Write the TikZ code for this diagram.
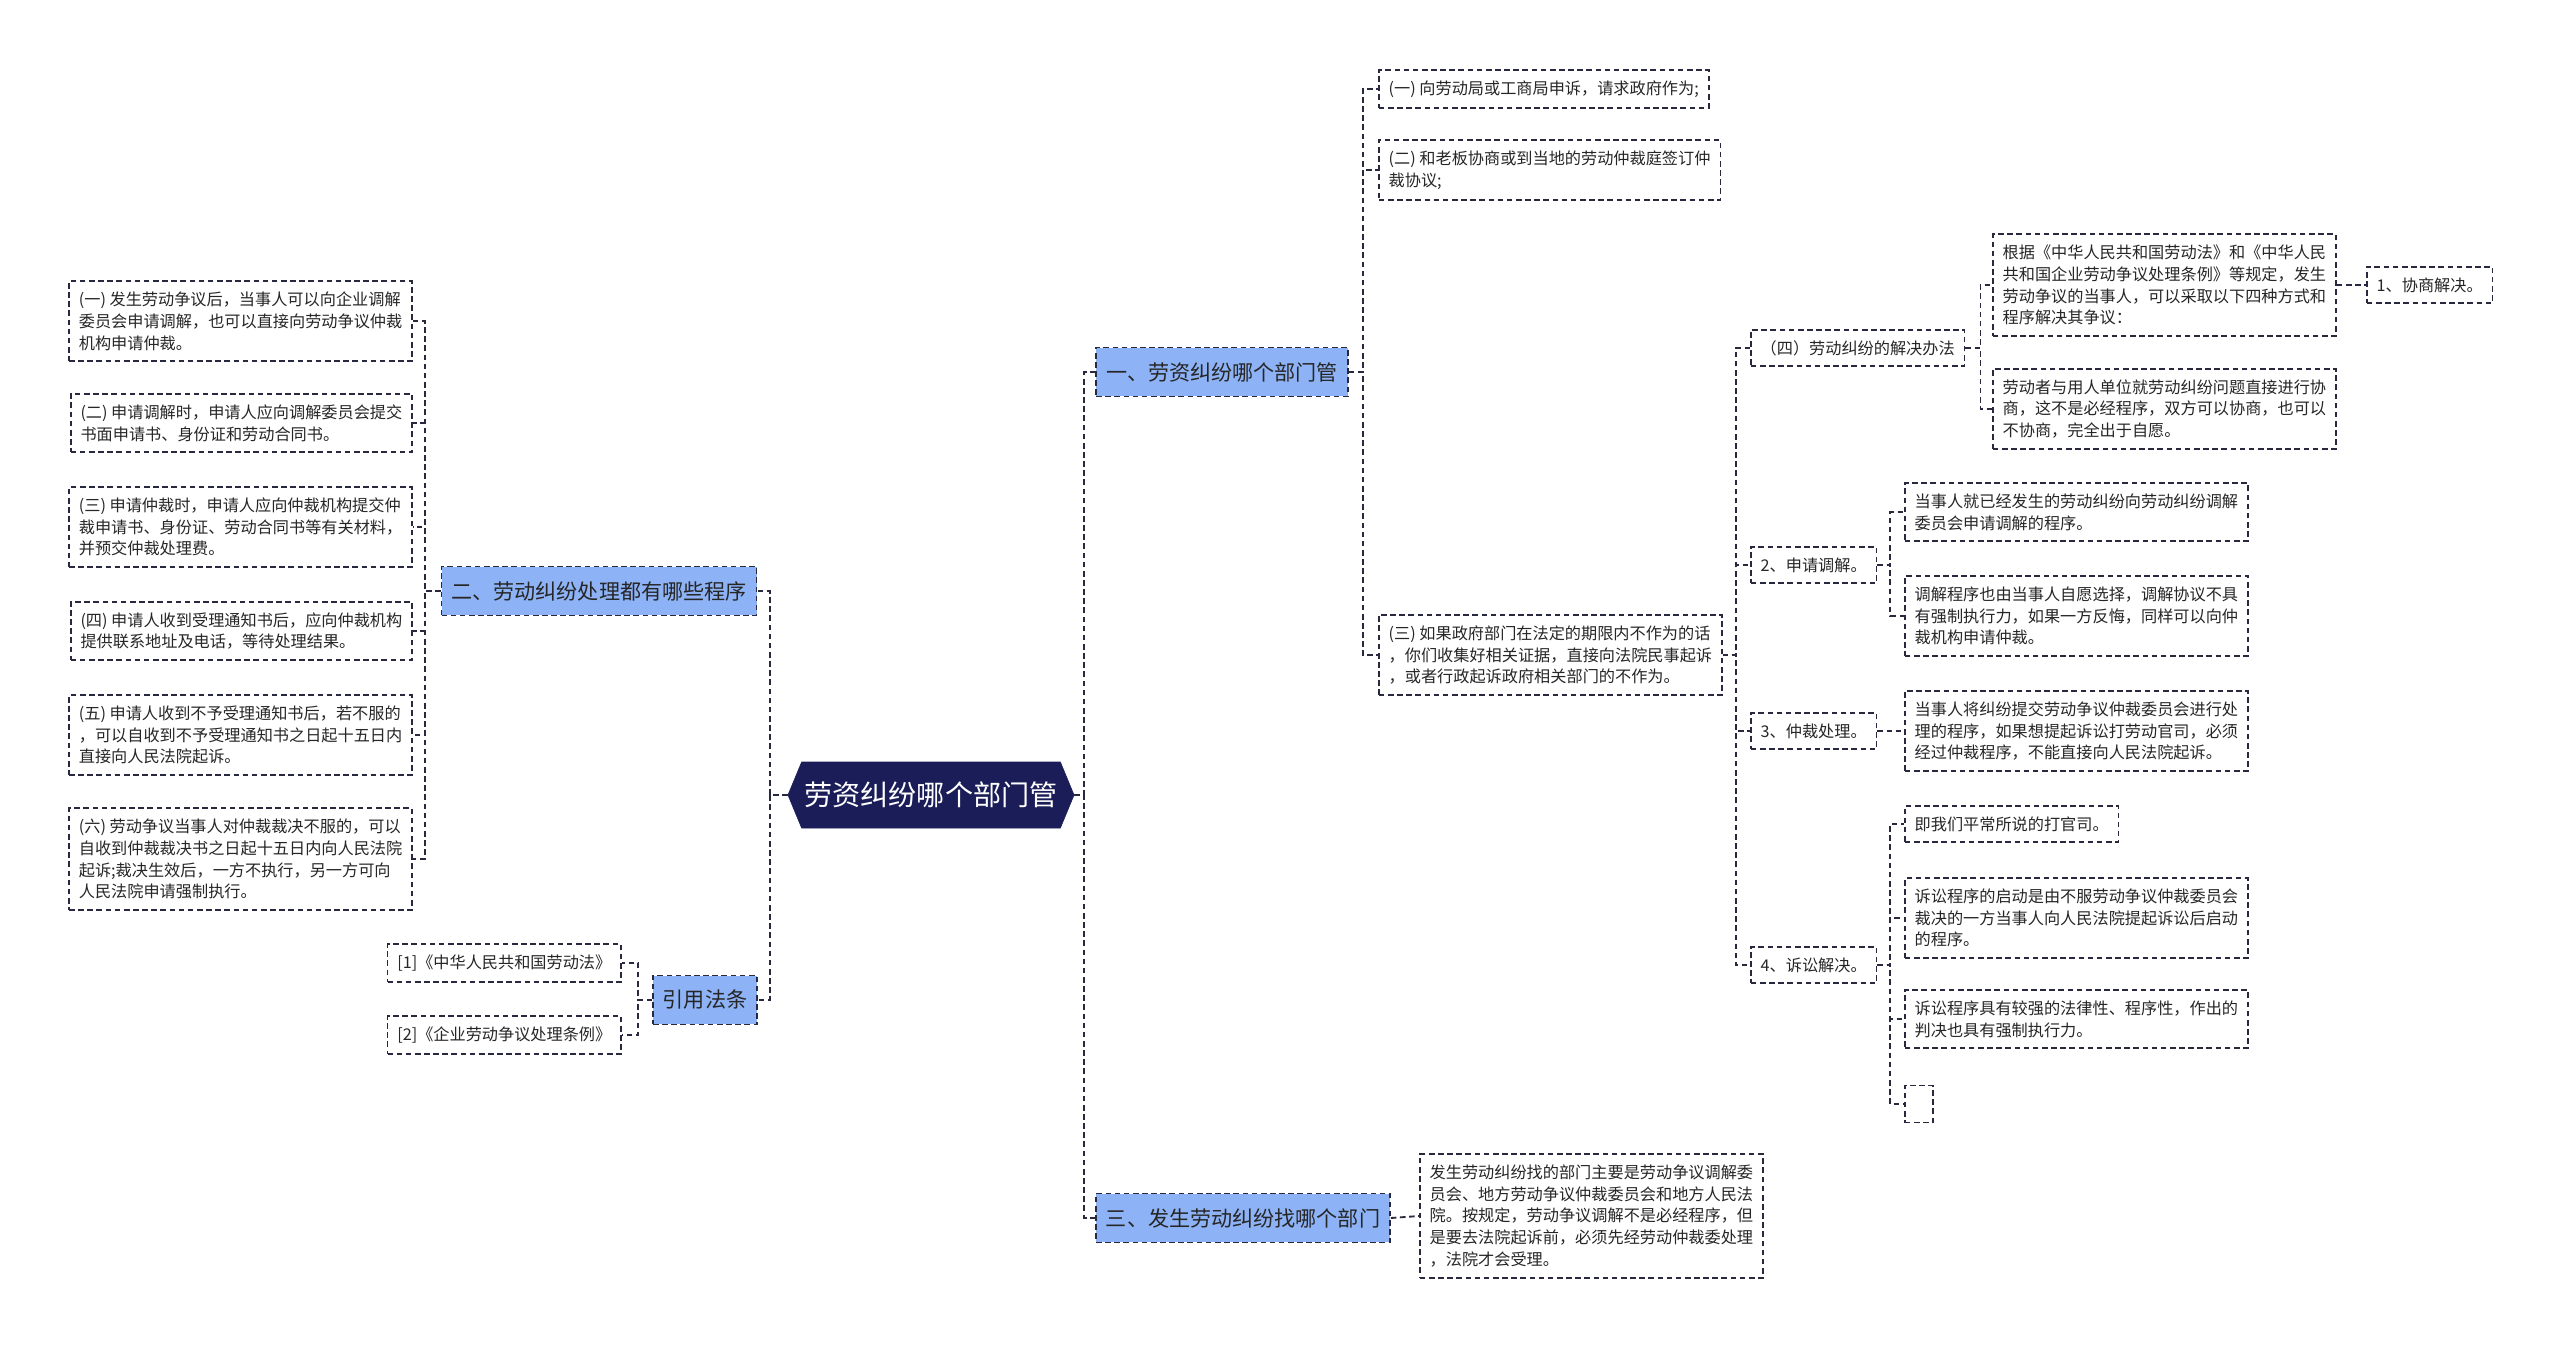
\documentclass[tikz,border=0pt]{standalone}
\usepackage{fontspec}
\setmainfont{Noto Sans CJK SC}
\usetikzlibrary{positioning,shapes.symbols}
\definecolor{hubnavy}{RGB}{27,29,88}
\definecolor{topicblue}{RGB}{141,178,245}
\definecolor{edgegrey}{RGB}{40,40,62}

\begin{document}
\begin{tikzpicture}[x=0.025cm, y=-0.025cm,
    hub/.style={signal, signal to=west and east, signal pointer angle=135, fill=hubnavy, draw=hubnavy,
                text=white, font=\fontsize{20}{24}\selectfont, minimum height=1.65cm, inner xsep=2pt},
    topic/.style={rectangle, draw=edgegrey, fill=topicblue, dash pattern=on 4pt off 2.5pt, line width=1.2pt,
                  font=\fontsize{15}{18}\selectfont, text=black!85, minimum height=1.22cm, inner xsep=7pt},
    leaf/.style={rectangle, draw=edgegrey, fill=white, dash pattern=on 4pt off 2.5pt, line width=1.2pt,
                 font=\fontsize{11.5}{15.5}\selectfont, text=black!85, align=left, inner xsep=7pt, inner ysep=7.5pt},
    link/.style={draw=edgegrey, dash pattern=on 4pt off 2.5pt, line width=1.3pt}
]
\useasboundingbox (0,0) rectangle (2560,1349);

\node[hub] (root) at (931,795) {劳资纠纷哪个部门管};
\node[topic] (procs) at (599,591) {二、劳动纠纷处理都有哪些程序};
\node[topic] (laws) at (705,1000) {引用法条};
\node[topic] (dept) at (1222,372) {一、劳资纠纷哪个部门管};
\node[topic] (whom) at (1243,1218) {三、发生劳动纠纷找哪个部门};

\node[leaf, anchor=east] (p1) at (413,321) {(一) 发生劳动争议后，当事人可以向企业调解\\委员会申请调解，也可以直接向劳动争议仲裁\\机构申请仲裁。};
\node[leaf, anchor=east] (p2) at (413,423) {(二) 申请调解时，申请人应向调解委员会提交\\书面申请书、身份证和劳动合同书。};
\node[leaf, anchor=east] (p3) at (413,527) {(三) 申请仲裁时，申请人应向仲裁机构提交仲\\裁申请书、身份证、劳动合同书等有关材料，\\并预交仲裁处理费。};
\node[leaf, anchor=east] (p4) at (413,631) {(四) 申请人收到受理通知书后，应向仲裁机构\\提供联系地址及电话，等待处理结果。};
\node[leaf, anchor=east] (p5) at (413,735) {(五) 申请人收到不予受理通知书后，若不服的\\，可以自收到不予受理通知书之日起十五日内\\直接向人民法院起诉。};
\node[leaf, anchor=east] (p6) at (413,859) {(六) 劳动争议当事人对仲裁裁决不服的，可以\\自收到仲裁裁决书之日起十五日内向人民法院\\起诉;裁决生效后，一方不执行，另一方可向\\人民法院申请强制执行。};

\node[leaf, anchor=east] (law1) at (622,963) {[1]《中华人民共和国劳动法》};
\node[leaf, anchor=east] (law2) at (622,1035) {[2]《企业劳动争议处理条例》};

\node[leaf, anchor=west] (d1) at (1378,89) {(一) 向劳动局或工商局申诉，请求政府作为;};
\node[leaf, anchor=west] (d2) at (1378,170) {(二) 和老板协商或到当地的劳动仲裁庭签订仲\\裁协议;};
\node[leaf, anchor=west] (d3) at (1378,655) {(三) 如果政府部门在法定的期限内不作为的话\\，你们收集好相关证据，直接向法院民事起诉\\，或者行政起诉政府相关部门的不作为。};

\node[leaf, anchor=west] (way) at (1750,348) {（四）劳动纠纷的解决办法};
\node[leaf, anchor=west] (way1) at (1992,285) {根据《中华人民共和国劳动法》和《中华人民\\共和国企业劳动争议处理条例》等规定，发生\\劳动争议的当事人，可以采取以下四种方式和\\程序解决其争议：};
\node[leaf, anchor=west] (talk) at (2366,285) {1、协商解决。};
\node[leaf, anchor=west] (way2) at (1992,409) {劳动者与用人单位就劳动纠纷问题直接进行协\\商，这不是必经程序，双方可以协商，也可以\\不协商，完全出于自愿。};

\node[leaf, anchor=west] (med) at (1750,565) {2、申请调解。};
\node[leaf, anchor=west] (med1) at (1904,512) {当事人就已经发生的劳动纠纷向劳动纠纷调解\\委员会申请调解的程序。};
\node[leaf, anchor=west] (med2) at (1904,616) {调解程序也由当事人自愿选择，调解协议不具\\有强制执行力，如果一方反悔，同样可以向仲\\裁机构申请仲裁。};

\node[leaf, anchor=west] (arb) at (1750,731) {3、仲裁处理。};
\node[leaf, anchor=west] (arb1) at (1904,731) {当事人将纠纷提交劳动争议仲裁委员会进行处\\理的程序，如果想提起诉讼打劳动官司，必须\\经过仲裁程序，不能直接向人民法院起诉。};

\node[leaf, anchor=west] (suit) at (1750,965) {4、诉讼解决。};
\node[leaf, anchor=west] (suit1) at (1904,824) {即我们平常所说的打官司。};
\node[leaf, anchor=west] (suit2) at (1904,918) {诉讼程序的启动是由不服劳动争议仲裁委员会\\裁决的一方当事人向人民法院提起诉讼后启动\\的程序。};
\node[leaf, anchor=west] (suit3) at (1904,1019) {诉讼程序具有较强的法律性、程序性，作出的\\判决也具有强制执行力。};
\node[leaf, anchor=west, minimum width=0.7cm, minimum height=0.93cm] (suit4) at (1904,1104) {};

\node[leaf, anchor=west] (whom1) at (1419,1216) {发生劳动纠纷找的部门主要是劳动争议调解委\\员会、地方劳动争议仲裁委员会和地方人民法\\院。按规定，劳动争议调解不是必经程序，但\\是要去法院起诉前，必须先经劳动仲裁委处理\\，法院才会受理。};

\foreach \c in {procs,laws} \draw[link] (root.west) -- ++(-18,0) |- (\c.east);
\foreach \c in {dept,whom} \draw[link] (root.east) -- ++(10,0) |- (\c.west);
\foreach \c in {p1,p2,p3,p4,p5,p6} \draw[link] (procs.west) -- ++(-16,0) |- (\c.east);
\foreach \c in {law1,law2} \draw[link] (laws.west) -- ++(-14,0) |- (\c.east);
\foreach \c in {d1,d2,d3} \draw[link] (dept.east) -- ++(14,0) |- (\c.west);
\foreach \c in {way,med,arb,suit} \draw[link] (d3.east) -- ++(13,0) |- (\c.west);
\foreach \c in {way1,way2} \draw[link] (way.east) -- ++(15,0) |- (\c.west);
\draw[link] (way1.east) -- (talk.west);
\foreach \c in {med1,med2} \draw[link] (med.east) -- ++(13,0) |- (\c.west);
\draw[link] (arb.east) -- (arb1.west);
\foreach \c in {suit1,suit2,suit3,suit4} \draw[link] (suit.east) -- ++(13,0) |- (\c.west);
\draw[link] (whom.east) -- (whom1.west);
\end{tikzpicture}
\end{document}
